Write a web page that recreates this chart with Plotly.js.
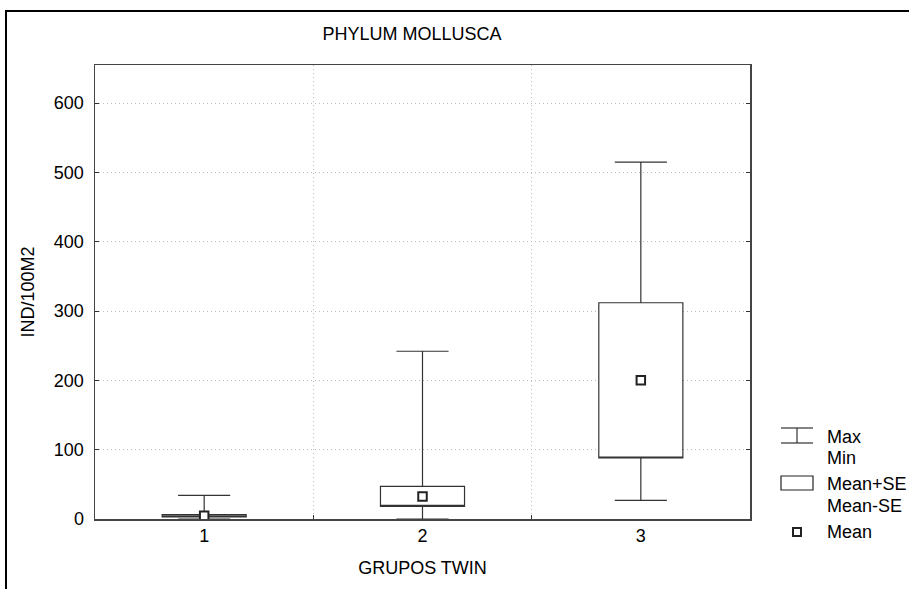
<!DOCTYPE html>
<html>
<head>
<meta charset="utf-8">
<script src="https://cdn.plot.ly/plotly-3.0.1.min.js"></script>
<style>html,body{margin:0;padding:0;background:#fff;}#chart{width:909px;height:589px;}</style>
</head>
<body>
<div id="chart"></div>
<script>
// ---- data ----
const groups = [1, 2, 3];
const groupLabels = ['1', '2', '3'];
const meanVals = [4.6, 32.6, 200];
const meanPlusSE = [6.2, 47, 312];
const meanMinusSE = [2.9, 18.2, 88];
const maxVals = [34, 242, 515];
const minVals = [0, 0, 27];
const yTicks = [0, 100, 200, 300, 400, 500, 600];

// ---- layout helpers (pixel -> paper) ----
const W = 909, H = 589;
const M = {l: 95, r: 159, t: 65, b: 70};
const PW = W - M.l - M.r, PH = H - M.t - M.b;
const px = x => (x - M.l) / PW;
const py = y => (H - M.b - y) / PH;

const FONT = 'Liberation Sans, Arial, sans-serif';
const FS = 18;
const dark = '#222';
const gridDash = '1px,3px';

const traces = [
  {
    type: 'box',
    x: groups,
    q1: meanMinusSE,
    median: meanMinusSE,
    q3: meanPlusSE,
    lowerfence: minVals,
    upperfence: maxVals,
    boxpoints: false,
    width: 0.385,
    whiskerwidth: 0.62,
    fillcolor: 'rgba(255,255,255,1)',
    line: {color: '#333', width: 1.2},
    showlegend: false,
    hoverinfo: 'skip'
  },
  {
    type: 'scatter',
    mode: 'markers',
    x: groups,
    y: meanVals,
    marker: {symbol: 'square', size: 8.5, color: '#fff', line: {color: dark, width: 2}},
    showlegend: false,
    hoverinfo: 'skip'
  }
];

const shapes = [
  // outer frame
  {type: 'rect', xref: 'paper', yref: 'paper', x0: px(6), x1: px(960), y0: py(640), y1: py(11),
   line: {color: '#000', width: 2}, fillcolor: 'rgba(0,0,0,0)', layer: 'below'},
  // legend: whisker icon
  {type: 'line', xref: 'paper', yref: 'paper', x0: px(781), x1: px(813), y0: py(428), y1: py(428), line: {color: '#333', width: 1.2}},
  {type: 'line', xref: 'paper', yref: 'paper', x0: px(781), x1: px(813), y0: py(443), y1: py(443), line: {color: '#333', width: 1.2}},
  {type: 'line', xref: 'paper', yref: 'paper', x0: px(797), x1: px(797), y0: py(428), y1: py(443), line: {color: '#333', width: 1.2}},
  // legend: box icon
  {type: 'rect', xref: 'paper', yref: 'paper', x0: px(781), x1: px(813), y0: py(476), y1: py(490), line: {color: '#222', width: 1.2}, fillcolor: '#fff'},
  // legend: mean square
  {type: 'rect', xref: 'paper', yref: 'paper', x0: px(793), x1: px(801), y0: py(528), y1: py(536), line: {color: '#222', width: 2}, fillcolor: '#fff'}
];

const legText = [
  ['Max', 437], ['Min', 458], ['Mean+SE', 484], ['Mean-SE', 506], ['Mean', 532]
];
const annotations = legText.map(([t, y]) => ({
  xref: 'paper', yref: 'paper', x: px(825), y: py(y), xanchor: 'left', yanchor: 'middle',
  text: t, showarrow: false, font: {family: FONT, size: FS, color: '#000'}
}));

const layout = {
  width: W, height: H,
  margin: M,
  paper_bgcolor: '#fff', plot_bgcolor: '#fff',
  showlegend: false,
  title: {text: 'PHYLUM MOLLUSCA', font: {family: FONT, size: FS, color: '#000'},
          xref: 'container', yref: 'container', x: 412 / W, y: 1 - 34 / H, xanchor: 'center', yanchor: 'middle'},
  xaxis: {
    range: [0.5, 3.5],
    tickmode: 'array', tickvals: groups, ticktext: groupLabels,
    showgrid: false, zeroline: false,
    ticks: '', showline: true, mirror: true, linecolor: '#444', linewidth: 1.5,
    tickfont: {family: FONT, size: FS, color: '#000'},
    minor: {tickmode: 'array', tickvals: [1.5, 2.5], showgrid: true, gridcolor: '#bdbdbd', griddash: gridDash, gridwidth: 1,
            ticks: 'inside', ticklen: 4, tickcolor: '#333'},
    title: {text: 'GRUPOS TWIN', font: {family: FONT, size: FS, color: '#000'}, standoff: 16}
  },
  yaxis: {
    range: [0, 655],
    tickmode: 'array', tickvals: yTicks,
    showgrid: true, gridcolor: '#bdbdbd', griddash: gridDash, gridwidth: 1,
    zeroline: false,
    ticks: 'inside', ticklen: 4, tickcolor: '#333',
    ticklabelstandoff: 6,
    showline: true, mirror: 'ticks', linecolor: '#444', linewidth: 1.5,
    tickfont: {family: FONT, size: FS, color: '#000'},
    title: {text: 'IND/100M2', font: {family: FONT, size: FS, color: '#000'}, standoff: 14}
  },
  shapes: shapes,
  annotations: annotations
};

Plotly.newPlot('chart', traces, layout, {staticPlot: true, displayModeBar: false});
</script>
</body>
</html>
